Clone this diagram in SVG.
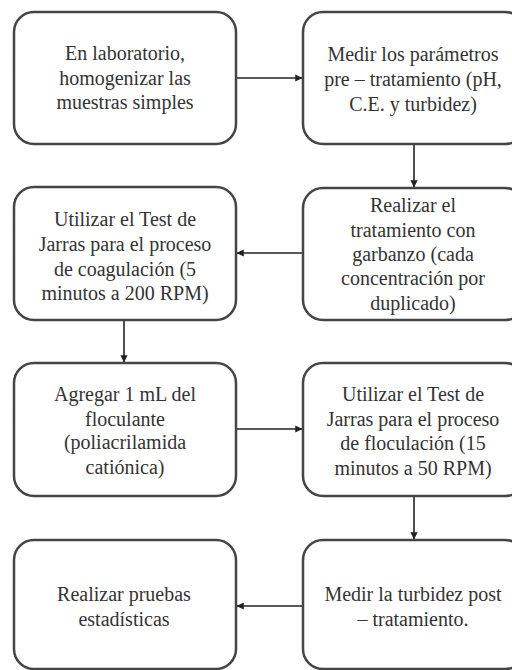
<svg xmlns="http://www.w3.org/2000/svg" width="512" height="670" viewBox="0 0 512 670">
<defs>
<style>
.box{fill:#fff;stroke:#454545;stroke-width:2.5}
.t{font-family:'Liberation Serif','Times New Roman',serif;font-size:20px;fill:#333;text-anchor:middle}
.c{stroke:#222;stroke-width:1.6;fill:none;marker-end:url(#ah)}
</style>
<marker id="ah" viewBox="0 0 8 8" refX="7.5" refY="4" markerWidth="4.5" markerHeight="4.5" orient="auto" markerUnits="strokeWidth">
<path d="M0,0 L8,4 L0,8 z" fill="#222"/>
</marker>
</defs>
<rect width="512" height="670" fill="#fff"/>
<g id="connectors">
<line class="c" x1="237" y1="78" x2="302" y2="78"/>
<line class="c" x1="414" y1="145" x2="414" y2="187"/>
<line class="c" x1="302" y1="253" x2="237" y2="253"/>
<line class="c" x1="124" y1="321" x2="124" y2="362"/>
<line class="c" x1="237" y1="429" x2="302" y2="429"/>
<line class="c" x1="414" y1="497" x2="414" y2="539"/>
<line class="c" x1="302" y1="606" x2="237" y2="606"/>
</g>
<g id="n1">
<rect class="box" x="14" y="12" width="222" height="132" rx="20"/>
<text class="t" x="125" y="60">En laboratorio,</text>
<text class="t" x="125" y="85">homogenizar las</text>
<text class="t" x="125" y="109">muestras simples</text>
</g>
<g id="n2">
<rect class="box" x="303" y="12" width="222" height="132" rx="20"/>
<text class="t" x="413" y="61">Medir los parámetros</text>
<text class="t" x="413" y="86">pre – tratamiento (pH,</text>
<text class="t" x="413" y="111">C.E. y turbidez)</text>
</g>
<g id="n3">
<rect class="box" x="14" y="187" width="222" height="133" rx="20"/>
<text class="t" x="125" y="226">Utilizar el Test de</text>
<text class="t" x="125" y="251">Jarras para el proceso</text>
<text class="t" x="125" y="276">de coagulación (5</text>
<text class="t" x="125" y="300">minutos a 200 RPM)</text>
</g>
<g id="n4">
<rect class="box" x="303" y="188" width="222" height="132" rx="20"/>
<text class="t" x="413" y="212">Realizar el</text>
<text class="t" x="413" y="237">tratamiento con</text>
<text class="t" x="413" y="261">garbanzo (cada</text>
<text class="t" x="413" y="285">concentración por</text>
<text class="t" x="413" y="310">duplicado)</text>
</g>
<g id="n5">
<rect class="box" x="14" y="363" width="222" height="133" rx="20"/>
<text class="t" x="125" y="401">Agregar 1 mL del</text>
<text class="t" x="125" y="426">floculante</text>
<text class="t" x="125" y="449">(poliacrilamida</text>
<text class="t" x="125" y="474">catiónica)</text>
</g>
<g id="n6">
<rect class="box" x="303" y="363" width="222" height="133" rx="20"/>
<text class="t" x="413" y="401">Utilizar el Test de</text>
<text class="t" x="413" y="426">Jarras para el proceso</text>
<text class="t" x="413" y="450">de floculación (15</text>
<text class="t" x="413" y="475">minutos a 50 RPM)</text>
</g>
<g id="n7">
<rect class="box" x="14" y="540" width="222" height="129" rx="20"/>
<text class="t" x="124" y="601">Realizar pruebas</text>
<text class="t" x="124" y="626">estadísticas</text>
</g>
<g id="n8">
<rect class="box" x="303" y="540" width="222" height="129" rx="20"/>
<text class="t" x="413" y="601">Medir la turbidez post</text>
<text class="t" x="413" y="626">– tratamiento.</text>
</g>
</svg>
